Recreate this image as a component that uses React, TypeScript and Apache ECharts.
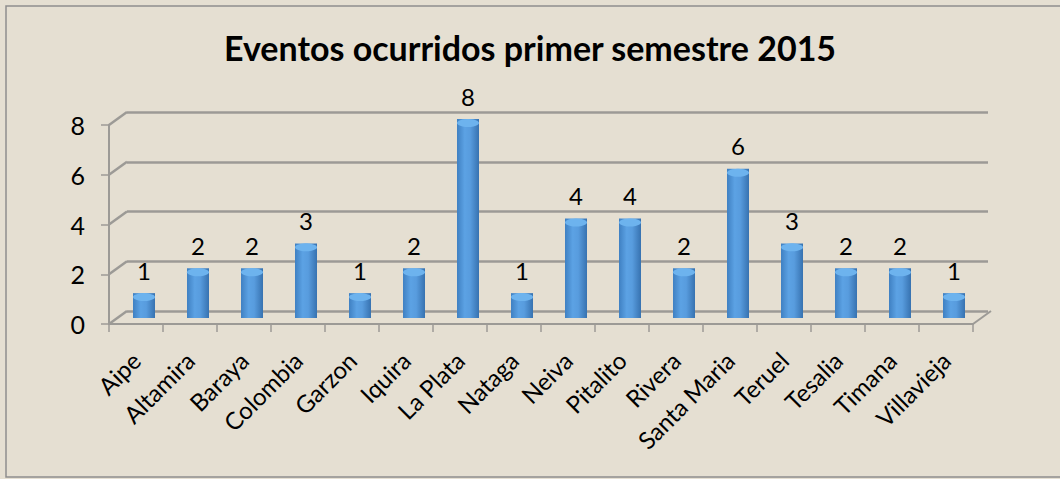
import React, { useEffect, useRef } from "react";
import * as echarts from "echarts";

const titleText = "Eventos ocurridos primer semestre 2015";
const categories = [
  "Aipe", "Altamira", "Baraya", "Colombia", "Garzon", "Iquira", "La Plata", "Nataga",
  "Neiva", "Pitalito", "Rivera", "Santa Maria", "Teruel", "Tesalia", "Timana", "Villavieja",
];
const values = [1, 2, 2, 3, 1, 2, 8, 1, 4, 4, 2, 6, 3, 2, 2, 1];
const yTicks = [0, 2, 4, 6, 8];

const DEPTH_X = 18;
const DEPTH_Y = -13;
const GRID_COLOR = "#9c9a96";
const FONT = "Lato, 'Open Sans', sans-serif";

export default function App() {
  const ref = useRef<HTMLDivElement>(null);
  useEffect(() => {
    if (!ref.current) return;
    const chart = echarts.init(ref.current, null, { renderer: "svg" });
    const yMax = yTicks[yTicks.length - 1];
    const option: any = {
      animation: false,
      backgroundColor: "#e5dfd2",
      title: {
        text: titleText,
        left: "center",
        top: 25,
        textStyle: { fontFamily: FONT, fontWeight: "bold", fontSize: 34, color: "#000" },
      },
      graphic: [
        {
          type: "rect",
          shape: { x: 6, y: 6, width: 1100, height: 471 },
          style: { fill: "none", stroke: "#8e8e8e", lineWidth: 1.5 },
          silent: true,
        },
      ],
      grid: [
        { left: 109, width: 864, top: 125, height: 199 },
        { left: 109 + DEPTH_X, width: 861, top: 125 + DEPTH_Y, height: 199 },
        { left: 117, width: 864, top: 119, height: 199 },
      ],
      xAxis: [
        {
          type: "category",
          gridIndex: 0,
          data: categories,
          boundaryGap: true,
          axisLine: { show: true, lineStyle: { color: GRID_COLOR, width: 2 } },
          axisTick: { show: true, interval: 0, length: 8, lineStyle: { color: GRID_COLOR, width: 1.5 } },
          axisLabel: {
            interval: 0,
            rotate: 45,
            margin: 32,
            fontFamily: FONT,
            fontSize: 24,
            color: "#000",
          },
        },
        { type: "category", gridIndex: 1, data: categories, show: false },
        { type: "category", gridIndex: 2, data: categories, show: false },
      ],
      yAxis: [
        {
          type: "value",
          gridIndex: 0,
          min: 0,
          max: yMax,
          interval: 2,
          axisLine: { show: true, lineStyle: { color: GRID_COLOR, width: 2 } },
          axisTick: { show: true, length: 8, lineStyle: { color: GRID_COLOR, width: 1.5 } },
          splitLine: { show: false },
          axisLabel: { fontFamily: FONT, fontSize: 25, color: "#000", margin: 24 },
        },
        {
          type: "value",
          gridIndex: 1,
          min: 0,
          max: yMax,
          interval: 2,
          axisLine: { show: false },
          axisTick: { show: false },
          axisLabel: { show: false },
          splitLine: { show: true, lineStyle: { color: GRID_COLOR, width: 2.5 } },
        },
        {
          type: "value",
          gridIndex: 2,
          min: 0,
          max: yMax,
          interval: 2,
          show: false,
          splitLine: { show: false },
        },
      ],
      series: [
        {
          type: "custom",
          name: "frame",
          xAxisIndex: 0,
          yAxisIndex: 0,
          clip: false,
          silent: true,
          data: yTicks.map((v) => [0, v]),
          renderItem: (params: any, api: any) => {
            const cs = params.coordSys;
            const v = api.value(1);
            const p = api.coord([0, v]);
            const children: any[] = [
              {
                type: "line",
                shape: { x1: cs.x, y1: p[1], x2: cs.x + DEPTH_X, y2: p[1] + DEPTH_Y },
                style: { stroke: GRID_COLOR, lineWidth: 2.5 },
              },
            ];
            if (v === 0) {
              children.push({
                type: "line",
                shape: {
                  x1: cs.x + cs.width,
                  y1: p[1],
                  x2: cs.x + cs.width + DEPTH_X,
                  y2: p[1] + DEPTH_Y,
                },
                style: { stroke: GRID_COLOR, lineWidth: 2 },
              });
            }
            return { type: "group", children };
          },
          z: 1,
        },
        {
          type: "bar",
          name: "Eventos",
          xAxisIndex: 2,
          yAxisIndex: 2,
          data: values,
          barWidth: 22,
          z: 3,
          itemStyle: {
            color: new echarts.graphic.LinearGradient(0, 0, 1, 0, [
              { offset: 0, color: "#3f80c2" },
              { offset: 0.35, color: "#5ca2e4" },
              { offset: 0.6, color: "#589cde" },
              { offset: 1, color: "#3772b0" },
            ]),
          },
          label: {
            show: true,
            position: "top",
            distance: 11,
            fontFamily: FONT,
            fontSize: 24,
            color: "#000",
          },
        },
        {
          type: "pictorialBar",
          name: "bottom",
          xAxisIndex: 2,
          yAxisIndex: 2,
          data: values,
          symbol: "circle",
          symbolSize: [22, 7],
          symbolPosition: "start",
          symbolOffset: [0, 0],
          z: 2,
          silent: true,
          itemStyle: { color: "#3f80c2" },
        },
        {
          type: "pictorialBar",
          name: "top",
          xAxisIndex: 2,
          yAxisIndex: 2,
          data: values,
          symbol: "circle",
          symbolSize: [22, 8],
          symbolPosition: "end",
          symbolOffset: [0, 0],
          z: 4,
          silent: true,
          itemStyle: { color: "#6db3ee" },
        },
      ],
    };
    chart.setOption(option);
    return () => chart.dispose();
  }, []);
  return (
    <div
      ref={ref}
      style={{ position: "fixed", left: 0, top: 0, width: 1060, height: 479 }}
    />
  );
}
